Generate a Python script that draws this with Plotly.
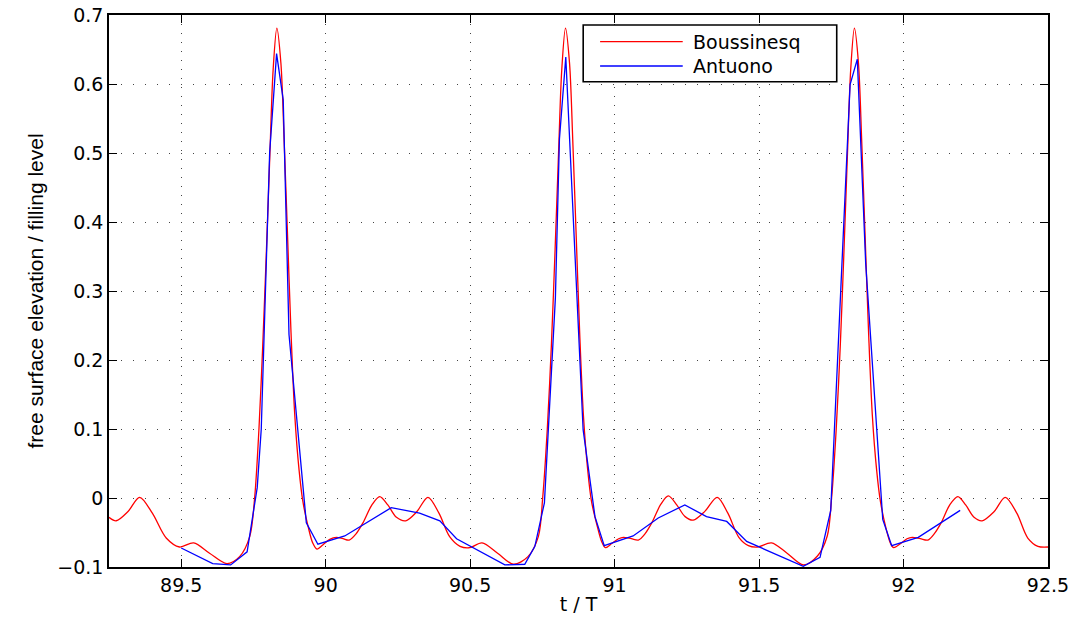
import plotly.graph_objects as go

# ---------------- data ----------------
# Boussinesq (red, smooth curve) : time t/T and free surface elevation
bous_t = [
    89.250, 89.275, 89.315, 89.356, 89.400, 89.448, 89.494, 89.543, 89.598, 89.658, 89.702, 89.737,
    89.754, 89.769, 89.782, 89.795, 89.807, 89.818, 89.831, 89.845, 89.856, 89.868, 89.880, 89.893,
    89.908, 89.921, 89.939, 89.955, 89.970, 89.990, 90.014, 90.037, 90.060, 90.081, 90.105, 90.129,
    90.160, 90.187, 90.215, 90.245, 90.277, 90.315, 90.354, 90.392, 90.429, 90.465, 90.499, 90.541,
    90.595, 90.650, 90.700, 90.736,
    90.751, 90.767, 90.781, 90.794, 90.806, 90.817, 90.830, 90.844, 90.855, 90.867, 90.879, 90.892,
    90.907, 90.920, 90.940, 90.955, 90.968, 90.990, 91.014, 91.030, 91.058, 91.082, 91.105, 91.130,
    91.160, 91.186, 91.215, 91.244, 91.272, 91.313, 91.355, 91.392, 91.430, 91.463, 91.495, 91.543,
    91.597, 91.654, 91.702, 91.736,
    91.751, 91.767, 91.781, 91.794, 91.806, 91.817, 91.830, 91.844, 91.855, 91.867, 91.879, 91.892,
    91.907, 91.920, 91.940, 91.955, 91.966, 91.990, 92.012, 92.030, 92.058, 92.084, 92.106, 92.130,
    92.160, 92.188, 92.215, 92.244, 92.272, 92.313, 92.352, 92.392, 92.430, 92.465, 92.500,
]
bous_eta = [
    -0.028, -0.033, -0.020, 0.001, -0.022, -0.058, -0.071, -0.065, -0.080, -0.095, -0.085, -0.056,
    0.000, 0.100, 0.220, 0.360, 0.500, 0.620, 0.681, 0.630, 0.520, 0.380, 0.240, 0.120,
    0.040, -0.005, -0.041, -0.065, -0.074, -0.068, -0.060, -0.057, -0.059, -0.061, -0.052, -0.036,
    -0.010, 0.002, -0.010, -0.028, -0.033, -0.020, 0.001, -0.022, -0.056, -0.070, -0.072, -0.065,
    -0.080, -0.096, -0.085, -0.056,
    0.000, 0.100, 0.220, 0.360, 0.500, 0.620, 0.681, 0.630, 0.520, 0.380, 0.240, 0.120,
    0.040, -0.005, -0.041, -0.063, -0.072, -0.066, -0.059, -0.057, -0.059, -0.061, -0.052, -0.035,
    -0.009, 0.003, -0.010, -0.027, -0.032, -0.019, 0.001, -0.022, -0.057, -0.069, -0.071, -0.065,
    -0.080, -0.097, -0.084, -0.055,
    0.000, 0.100, 0.220, 0.360, 0.500, 0.620, 0.681, 0.630, 0.520, 0.380, 0.240, 0.120,
    0.040, -0.005, -0.045, -0.066, -0.072, -0.066, -0.059, -0.057, -0.059, -0.061, -0.052, -0.036,
    -0.010, 0.002, -0.010, -0.028, -0.033, -0.020, 0.001, -0.022, -0.058, -0.070, -0.071,
]

# Antuono (blue, piecewise linear samples)
antu_t = [
    89.500, 89.609, 89.671, 89.728, 89.763, 89.777, 89.806, 89.830, 89.853, 89.873, 89.933, 89.973,
    90.066, 90.227, 90.325, 90.395, 90.453, 90.620, 90.689, 90.724, 90.757, 90.795, 90.809, 90.831,
    90.891, 90.932, 90.964, 91.064, 91.151, 91.243, 91.318, 91.388, 91.457, 91.653, 91.711, 91.748,
    91.815, 91.840, 91.869, 91.928, 91.959, 92.051, 92.196,
]
antu_eta = [
    -0.0725, -0.095, -0.097, -0.078, 0.015, 0.100, 0.500, 0.644, 0.577, 0.237, -0.036, -0.067,
    -0.055, -0.014, -0.022, -0.033, -0.059, -0.097, -0.096, -0.070, -0.007, 0.290, 0.520, 0.639,
    0.099, -0.027, -0.069, -0.055, -0.029, -0.010, -0.027, -0.034, -0.063, -0.099, -0.086, -0.018,
    0.599, 0.636, 0.340, -0.031, -0.069, -0.057, -0.018,
]

series_names = ["Boussinesq", "Antuono"]
series_colors = ["#ff0000", "#0000ff"]

x_tickvals = [89.5, 90.0, 90.5, 91.0, 91.5, 92.0, 92.5]
x_ticktext = ["89.5", "90", "90.5", "91", "91.5", "92", "92.5"]
y_tickvals = [-0.1, 0.0, 0.1, 0.2, 0.3, 0.4, 0.5, 0.6, 0.7]
y_ticktext = ["\u22120.1", "0", "0.1", "0.2", "0.3", "0.4", "0.5", "0.6", "0.7"]

x_title = "t / T"
y_title = "free surface elevation / filling level"

assert len(bous_t) == len(bous_eta)
assert len(antu_t) == len(antu_eta)

# ---------------- figure ----------------
MAIN_FONT = "DejaVu Sans, Liberation Sans, Arial"
TICK_FONT = dict(family=MAIN_FONT, size=19, color="black")

fig = go.Figure()
fig.add_trace(go.Scatter(
    x=bous_t, y=bous_eta, mode="lines", name=series_names[0],
    line=dict(color=series_colors[0], width=1.3, shape="spline", smoothing=0.9),
    showlegend=False,
))
fig.add_trace(go.Scatter(
    x=antu_t, y=antu_eta, mode="lines", name=series_names[1],
    line=dict(color=series_colors[1], width=1.3),
    showlegend=False,
))

axis_common = dict(
    showline=True, linecolor="black", linewidth=1.6, mirror="ticks",
    ticks="inside", ticklen=8, tickwidth=1.2, tickcolor="black",
    showgrid=True, gridcolor="#444444", gridwidth=1,
    zeroline=False, tickfont=TICK_FONT,
)

fig.update_xaxes(
    range=[89.25, 92.5], tickmode="array", tickvals=x_tickvals, ticktext=x_ticktext,
    griddash="1px,8px",
    title=dict(text=x_title, font=dict(family=MAIN_FONT, size=19, color="black"), standoff=3),
    **axis_common,
)
fig.update_yaxes(
    range=[-0.1, 0.7], tickmode="array", tickvals=y_tickvals, ticktext=y_ticktext,
    griddash="1px,11px",
    title=dict(text=y_title, font=dict(family="Liberation Sans, Arial", size=21, color="black"),
               standoff=8),
    **axis_common,
)

# ---- MATLAB-style legend box (paper coordinates) ----
leg_x0, leg_x1 = 0.505, 0.775
leg_y0, leg_y1 = 0.879, 0.982
line_x0, line_x1 = 0.523, 0.611
text_x = 0.620
row_y = [0.9516, 0.9076]

shapes = [dict(type="rect", xref="paper", yref="paper", x0=leg_x0, x1=leg_x1, y0=leg_y0, y1=leg_y1,
               line=dict(color="black", width=1.6), fillcolor="white", layer="above")]
annotations = []
for name, color, ry in zip(series_names, series_colors, row_y):
    shapes.append(dict(type="line", xref="paper", yref="paper", x0=line_x0, x1=line_x1, y0=ry, y1=ry,
                       line=dict(color=color, width=1.3), layer="above"))
    annotations.append(dict(xref="paper", yref="paper", x=text_x, y=ry, text=name, showarrow=False,
                            xanchor="left", yanchor="middle",
                            font=dict(family=MAIN_FONT, size=19, color="black")))

fig.update_layout(
    width=1078, height=626,
    margin=dict(l=109, r=30, t=15, b=59, autoexpand=False),
    paper_bgcolor="white", plot_bgcolor="white",
    showlegend=False,
    shapes=shapes,
    annotations=annotations,
)

fig.write_html("out.html", post_script="document.body.style.margin='0';",
               config={"displayModeBar": False})
